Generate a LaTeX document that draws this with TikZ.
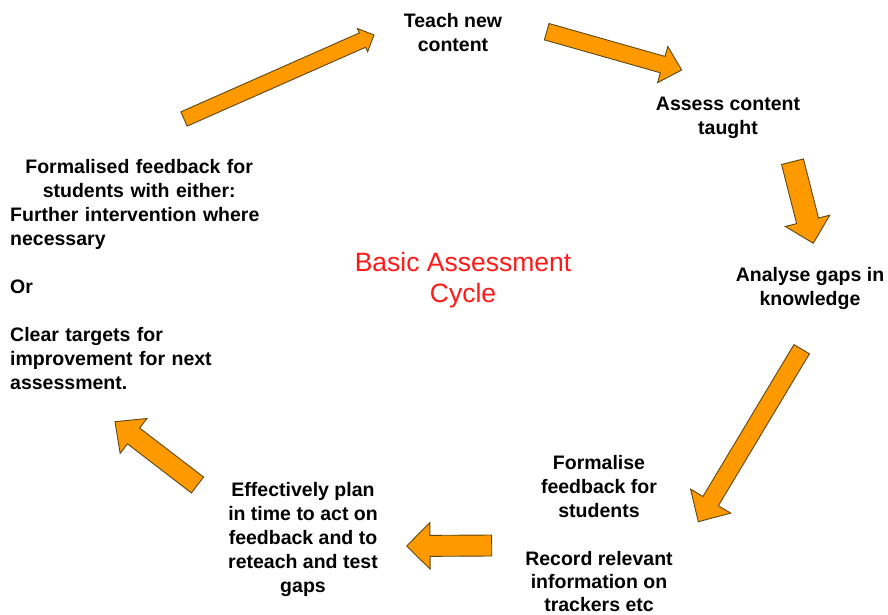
\documentclass[tikz,border=0pt]{standalone}
\usepackage{fontspec}
\setmainfont{Liberation Sans}
\usetikzlibrary{calc}
\definecolor{arrowfill}{HTML}{FF9900}
\definecolor{arrowedge}{HTML}{5C4712}
\definecolor{titlered}{HTML}{FF1A1A}
% block arrow: tail (x,y), tip (x,y), half shaft width, half head width, head length
\newcommand{\blkarrow}[7]{%
  \coordinate (bt) at (#1,#2);
  \coordinate (bp) at (#3,#4);
  \coordinate (bh) at ($(bp)!#7!(bt)$);
  \draw[blockarrow] ($(bt)!#5!90:(bp)$) -- ($(bh)!#5!90:(bp)$) -- ($(bh)!#6!90:(bp)$)
    -- (bp) -- ($(bh)!#6!-90:(bp)$) -- ($(bh)!#5!-90:(bp)$) -- ($(bt)!#5!-90:(bp)$) -- cycle;}
\begin{document}
\begin{tikzpicture}[x=1pt,y=-1pt,
  blockarrow/.style={fill=arrowfill,draw=arrowedge,line width=0.9pt,line join=miter},
  steptext/.style={font=\fontsize{19.5}{24}\selectfont\bfseries,align=center,inner sep=0pt,anchor=north},
  title/.style={font=\fontsize{26.5}{31}\selectfont,text=titlered,align=center,inner sep=0pt,anchor=north}]
\useasboundingbox (0,0) rectangle (888,615);
\fill[white] (0,0) rectangle (888,615);

% stages of the cycle
\node[steptext] (teach) at (453,13) {Teach new\\content};
\node[steptext] (assess) at (728,97) {Assess content\\taught};
\node[steptext] (analyse) at (810,267) {Analyse gaps in\\knowledge};
\node[steptext] (record) at (599,455) {Formalise\\feedback for\\students\\[24pt]Record relevant\\[-1pt]information on\\[-1pt]trackers etc};
\node[steptext] (plan) at (303,482) {Effectively plan\\in time to act on\\feedback and to\\reteach and test\\gaps};
\node[steptext,anchor=north west,text width=258pt,align=left] (targets) at (10,159)
  {\centering Formalised feedback for\\students with either:\par
   \raggedright Further intervention where\\necessary\\[24pt]Or\\[24pt]Clear targets for\\improvement for next\\assessment.\par};

% centre title
\node[title] (cycle) at (463,252) {Basic Assessment\\Cycle};

% arrows between stages
\blkarrow{184}{119}{374}{35}{7.8pt}{12.7pt}{12.6pt}
\blkarrow{546.7}{31.7}{681.7}{70}{8.5pt}{18.8pt}{19.8pt}
\blkarrow{792.5}{161.7}{813.3}{243.3}{11.3pt}{22.9pt}{23.2pt}
\blkarrow{801.7}{349.2}{698.3}{521.7}{9pt}{23.4pt}{24pt}
\blkarrow{491.7}{545.5}{406.7}{546}{10.5pt}{23.3pt}{23.3pt}
\blkarrow{197.5}{485}{115}{421.7}{10pt}{22pt}{23.4pt}
\end{tikzpicture}
\end{document}
